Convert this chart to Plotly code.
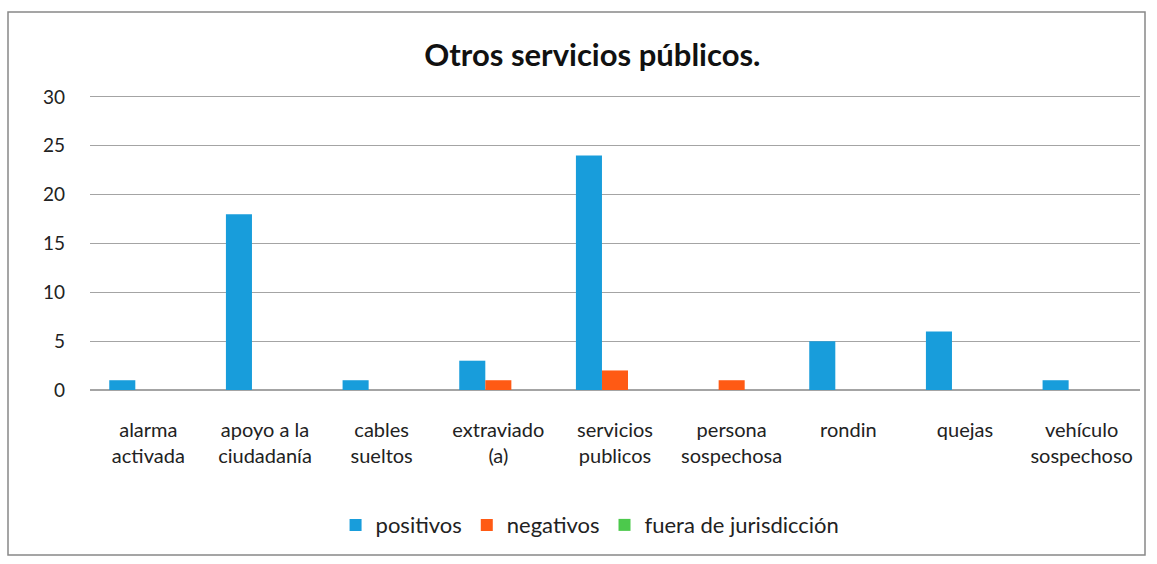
import plotly.graph_objects as go

categories = ["alarma<br>activada", "apoyo a la<br>ciudadanía", "cables<br>sueltos", "extraviado<br>(a)",
              "servicios<br>publicos", "persona<br>sospechosa", "rondin", "quejas", "vehículo<br>sospechoso"]
positivos = [1, 18, 1, 3, 24, 0, 5, 6, 1]
negativos = [0, 0, 0, 1, 2, 1, 0, 0, 0]
fuera = [0, 0, 0, 0, 0, 0, 0, 0, 0]
y_ticks = [0, 5, 10, 15, 20, 25, 30]

FONT = "Lato, Noto Sans, sans-serif"

fig = go.Figure()
fig.add_trace(go.Bar(x=categories, y=positivos, name="positivos", marker_color="#189ddb", marker_line_width=0))
fig.add_trace(go.Bar(x=categories, y=negativos, name="negativos", marker_color="#ff5a14", marker_line_width=0))
fig.add_trace(go.Bar(x=categories, y=fuera, name="fuera de jurisdicción", marker_color="#4cc94c", marker_line_width=0))

fig.update_layout(
    width=1157, height=564,
    paper_bgcolor="white", plot_bgcolor="white",
    margin=dict(l=90, r=17, t=95, b=174),
    barmode="group", bargap=0.33, bargroupgap=0,
    font=dict(family=FONT, color="#222222"),
    title=dict(text="<b>Otros servicios públicos.</b>", x=0.512, xref="container", xanchor="center",
               y=0.903, yref="container", yanchor="middle", font=dict(size=31, color="#111111", family=FONT)),
    legend=dict(orientation="h", x=0.51, xref="container", xanchor="center",
                y=0.069, yref="container", yanchor="middle", font=dict(size=22, family=FONT),
                itemwidth=30, traceorder="normal"),
    showlegend=True,
)
fig.update_yaxes(range=[0, 30.2], tickvals=y_ticks, showgrid=True, gridcolor="#a4a4a4", gridwidth=1,
                 tickfont=dict(size=19), ticks="", ticklen=0, showline=False, zeroline=True,
                 zerolinecolor="#a4a4a4", ticklabelstandoff=24)
fig.update_xaxes(tickfont=dict(size=20), showline=True, linecolor="#a4a4a4", ticks="", ticklabelstandoff=22)

fig.add_shape(type="rect", xref="paper", yref="paper", x0=-82/1050, x1=1.0 + 5/1050,
              y0=-165/295, y1=1 + 83/295, line=dict(color="#888888", width=1.5))

fig.write_html("out.html", config={"displayModeBar": False},
               post_script="document.body.style.margin='0';")
